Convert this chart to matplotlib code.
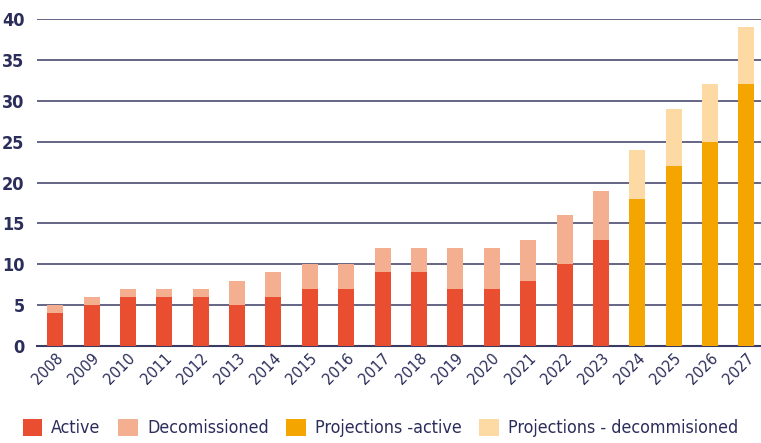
import numpy as np
import matplotlib.pyplot as plt

# Data
years = [str(y) for y in range(2008, 2028)]
active = [4, 5, 6, 6, 6, 5, 6, 7, 7, 9, 9, 7, 7, 8, 10, 13]
decom_total = [5, 6, 7, 7, 7, 8, 9, 10, 10, 12, 12, 12, 12, 13, 16, 19]
proj_active = [18, 22, 25, 32]
proj_total = [24, 29, 32, 39]

navy = '#2B2D5A'
c_active = '#E84E2F'
c_decom = '#F4AF90'
c_pactive = '#F5A500'
c_pdecom = '#FDDAA4'

plt.rcParams['font.family'] = ['DejaVu Sans']
plt.rcParams['font.stretch'] = 'condensed'

fig = plt.figure(figsize=(7.61, 4.43), dpi=100)
ax = fig.add_axes([0.0486, 0.219, 0.9514, 0.738])

x_hist = np.arange(len(active))
x_proj = np.arange(len(active), len(years))
w = 0.44

decom = np.array(decom_total) - np.array(active)
proj_decom = np.array(proj_total) - np.array(proj_active)

ax.bar(x_hist, active, w, color=c_active, label='Active', zorder=3)
ax.bar(x_hist, decom, w, bottom=active, color=c_decom, label='Decomissioned', zorder=3)
ax.bar(x_proj, proj_active, w, color=c_pactive, label='Projections -active', zorder=3)
ax.bar(x_proj, proj_decom, w, bottom=proj_active, color=c_pdecom,
       label='Projections - decommisioned', zorder=3)

ax.set_xlim(-0.5, 19.4)
ax.set_ylim(0, 40)
ax.set_yticks(range(0, 41, 5))
ax.yaxis.grid(True, color='#3A3C64', lw=1.1, zorder=0)
ax.set_axisbelow(True)
for s in ['top', 'right', 'left']:
    ax.spines[s].set_visible(False)
ax.spines['bottom'].set_color('#3A3C64')
ax.spines['bottom'].set_linewidth(1.5)
ax.tick_params(axis='both', length=0, colors=navy)
ax.tick_params(axis='y', pad=9, labelsize=13)
for t in ax.get_yticklabels():
    t.set_fontweight('bold')
ax.set_xticks(range(len(years)))
ax.set_xticklabels(years, rotation=45, ha='right', rotation_mode='anchor', fontsize=11.5)

fig.legend(loc='center', bbox_to_anchor=(0.5, 0.034), ncol=4, frameon=False,
           fontsize=12.8, handlelength=1.1, handleheight=1.1, handletextpad=0.5,
           columnspacing=1.0, labelcolor=navy, borderpad=0, borderaxespad=0)

fig.savefig('out.png', dpi=100)
